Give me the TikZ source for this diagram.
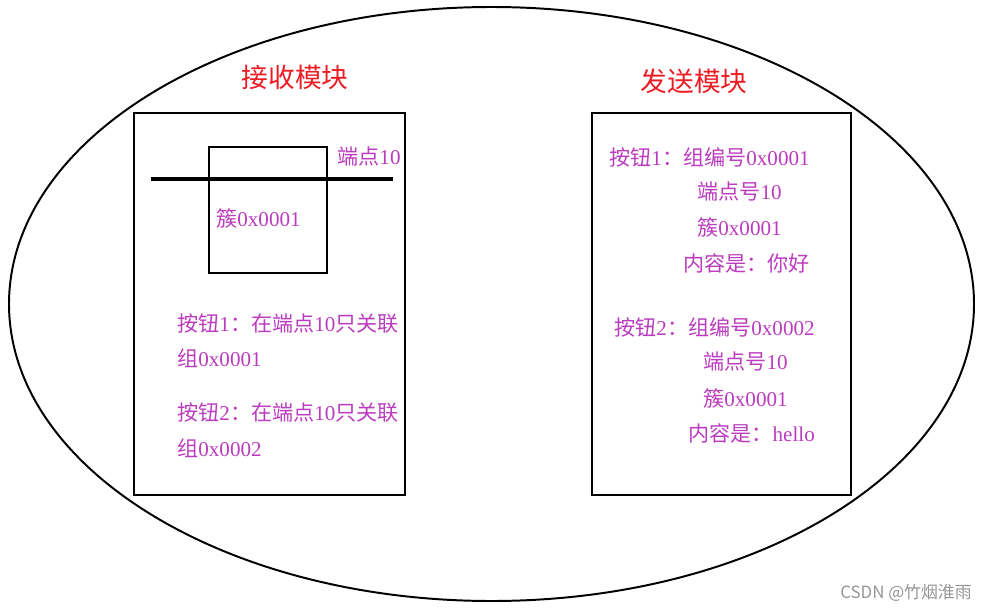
\documentclass[tikz,border=0pt]{standalone}
\usepackage{fontspec}
\setmainfont{Liberation Serif}
\newfontfamily\cjk{Noto Sans CJK SC}
\newcommand{\zh}[1]{{\cjk #1}}
\definecolor{txtpurple}{RGB}{187,60,190}
\definecolor{titlered}{RGB}{236,28,36}
\definecolor{markgray}{RGB}{150,150,150}

\begin{document}
\begin{tikzpicture}[
            x=0.025cm, y=-0.025cm,
            every node/.style={inner sep=0pt},
            outline/.style={draw, line width=1.4pt},
            title/.style={
                    text=titlered,
                    font=\cjk\fontsize{19}{22}\selectfont
                },
            label/.style={
                    anchor=west,
                    text=txtpurple,
                    font=\fontsize{15}{18}\selectfont
                }
            ]
            \useasboundingbox (0,0) rectangle (988,612);

            % Outer ellipse
            \draw [outline] (491.5,304) ellipse [x radius=482.5, y radius=297];

            % Receive module
            \node (recvtitle) [title] at (295,77) {接收模块};
            \draw [outline] (134,113) rectangle (405,495);
            \draw [outline] (209,147) rectangle (327,273);
            \draw [line width=2.2pt] (151,179) -- (393,179);
            \node (endpoint) [label] at (337,157) {\zh{端点}10};
            \node (cluster) [label] at (216,218) {\zh{簇}0x0001};
            \node (recvbtna) [label] at (177,324) {\zh{按钮}1\zh{：在端点}10\zh{只关联}};
            \node (recvgrpa) [label] at (177,358) {\zh{组}0x0001};
            \node (recvbtnb) [label] at (177,413) {\zh{按钮}2\zh{：在端点}10\zh{只关联}};
            \node (recvgrpb) [label] at (177,448) {\zh{组}0x0002};

            % Send module
            \node (sendtitle) [title] at (694,81) {发送模块};
            \draw [outline] (592,113) rectangle (851,495);
            \node (sendbtna) [label] at (609,157) {\zh{按钮}1\zh{：组编号}0x0001};
            \node (sendepa) [label] at (697,192) {\zh{端点号}10};
            \node (sendcla) [label] at (697,227) {\zh{簇}0x0001};
            \node (sendmsga) [label] at (683,263) {\zh{内容是：你好}};
            \node (sendbtnb) [label] at (614,327) {\zh{按钮}2\zh{：组编号}0x0002};
            \node (sendepb) [label] at (703,362) {\zh{端点号}10};
            \node (sendclb) [label] at (703,398) {\zh{簇}0x0001};
            \node (sendmsgb) [label] at (688,433) {\zh{内容是：}hello};

            % Watermark
            \node (mark) [anchor=east, text=markgray, font=\cjk\fontsize{12}{14}\selectfont] at (972,593) {CSDN @竹烟淮雨};

        \end{tikzpicture}
\end{document}
